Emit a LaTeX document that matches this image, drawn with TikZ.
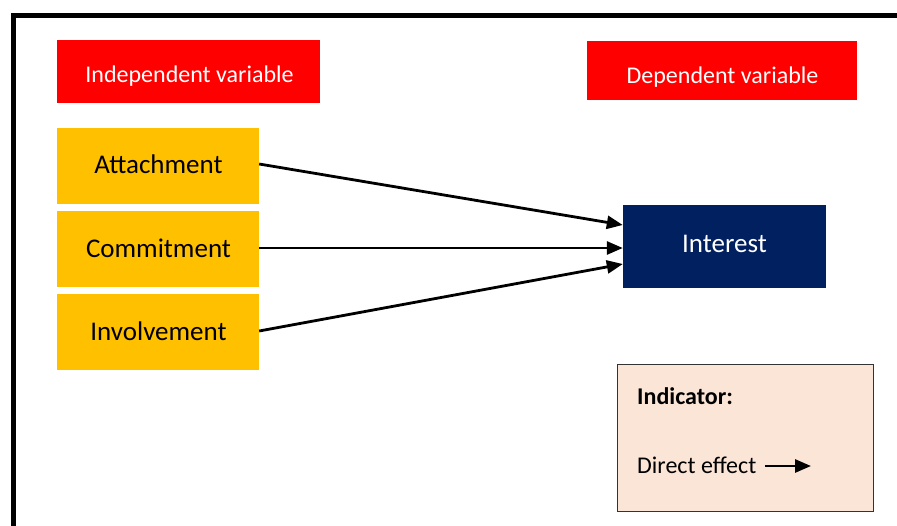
\documentclass[tikz,border=0pt]{standalone}
\usepackage{fontspec}
\setmainfont{Carlito}
\usetikzlibrary{arrows.meta}
\definecolor{navy}{HTML}{002060}
\definecolor{gold}{HTML}{FFC000}
\definecolor{peach}{HTML}{FBE5D6}
\tikzset{
  redbox/.style={fill=red, inner sep=0pt},
  ivbox/.style={fill=gold, inner sep=0pt, minimum width=202pt, minimum height=76pt},
  dvbox/.style={fill=navy, inner sep=0pt},
  redtxt/.style={text=white, inner sep=0pt, anchor=base, font=\fontsize{24}{28}\selectfont},
  ivtxt/.style={text=black, inner sep=0pt, anchor=base, font=\fontsize{27}{32}\selectfont},
  dvtxt/.style={text=white, inner sep=0pt, anchor=base, font=\fontsize{27}{32}\selectfont},
  legtxt/.style={text=black, inner sep=0pt, anchor=base west, font=\fontsize{24}{28}\selectfont},
  conn/.style={line width=2.8pt, -{Triangle[length=16pt,width=13pt]}},
}
\begin{document}
\begin{tikzpicture}[x=1pt,y=-1pt]
\useasboundingbox (0,0) rectangle (897,525);
\draw[line width=5pt] (13.5,527) -- (13.5,15.5) -- (899,15.5);
\node[redbox, minimum width=263pt, minimum height=63pt] (iv) at (188.5,71.5) {};
\node[redtxt] (ivt) at (189.5,82) {Independent variable};
\node[redbox, minimum width=270pt, minimum height=59pt] (dv) at (722,70.5) {};
\node[redtxt] (dvt) at (722.5,83) {Dependent variable};
\node[ivbox] (att) at (158,166) {};
\node[ivtxt] (attt) at (158.5,173.5) {Attachment};
\node[ivbox] (com) at (158,249) {};
\node[ivtxt] (comt) at (158.5,257) {Commitment};
\node[ivbox] (inv) at (158,332) {};
\node[ivtxt] (invt) at (158.5,340) {Involvement};
\node[dvbox, minimum width=203pt, minimum height=83pt] (int) at (724.5,246.5) {};
\node[dvtxt] (intt) at (724.5,252) {Interest};
\draw[fill=peach, draw=black!80, line width=0.9pt] (617,364) rectangle (873,511);
\node[legtxt, font=\fontsize{24}{28}\selectfont\bfseries] (ind) at (637,404.5) {Indicator:};
\node[legtxt] (de) at (637,473.5) {Direct effect};
\coordinate (la) at (765,466);
\coordinate (lb) at (811,466);
\draw[conn] (la) -- (lb);
\draw[conn] (att.east |- 0,164) -- (int.west |- 0,225);
\draw[conn] (com.east |- 0,248) -- (int.west |- 0,248);
\draw[conn] (inv.east |- 0,331) -- (int.west |- 0,264);
\end{tikzpicture}
\end{document}
